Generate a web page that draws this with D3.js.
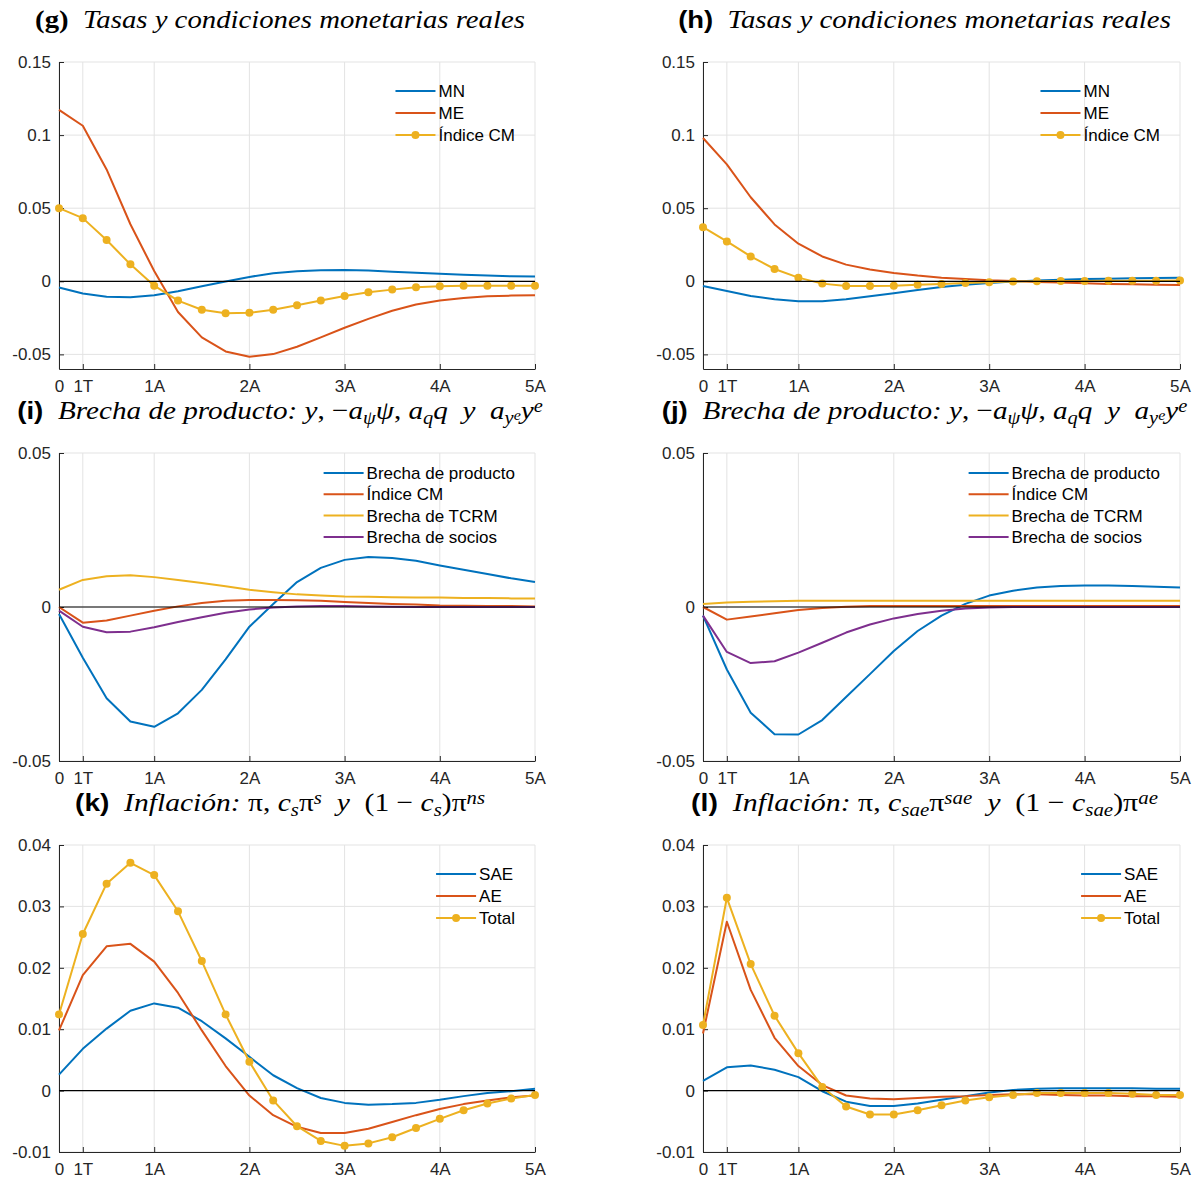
<!DOCTYPE html>
<html>
<head>
<meta charset="utf-8">
<script src="https://cdn.jsdelivr.net/npm/d3@7"></script>
<style>
  body { margin: 0; background: #fff; }
  svg { display: block; }
  .grid line { stroke: #e3e3e3; stroke-width: 1; }
</style>
</head>
<body>
<svg id="chart" width="1195" height="1181"></svg>
<script>
// quarters after the shock, 0 .. 5 years
const quarters = [0, 1, 2, 3, 4, 5, 6, 7, 8, 9, 10, 11, 12, 13, 14, 15, 16, 17, 18, 19, 20];
const xTickValues = [0, 1, 4, 8, 12, 16, 20];
const xTickLabels = ["0", "1T", "1A", "2A", "3A", "4A", "5A"];

const tasasTicks = [-0.05, 0, 0.05, 0.1, 0.15];
const brechaTicks = [-0.05, 0, 0.05];
const inflTicks = [-0.01, 0, 0.01, 0.02, 0.03, 0.04];

// (g) tasas y condiciones monetarias
const gMN = [-0.0043, -0.0084, -0.0105, -0.0109, -0.0095, -0.0068, -0.0034, -0.0002, 0.0030, 0.0055, 0.0068, 0.0075, 0.0077, 0.0073, 0.0066, 0.0059, 0.0052, 0.0045, 0.0039, 0.0034, 0.0032];
const gME = [0.1173, 0.1064, 0.0765, 0.0390, 0.0070, -0.0210, -0.0384, -0.0480, -0.0516, -0.0498, -0.0448, -0.0384, -0.0318, -0.0257, -0.0202, -0.0159, -0.0132, -0.0114, -0.0102, -0.0098, -0.0095];
const gCM = [0.0500, 0.0432, 0.0282, 0.0116, -0.0030, -0.0132, -0.0195, -0.0218, -0.0216, -0.0195, -0.0164, -0.0132, -0.0100, -0.0075, -0.0057, -0.0041, -0.0034, -0.0030, -0.0030, -0.0030, -0.0030];

// (h)
const hMN = [-0.0032, -0.0066, -0.0100, -0.0123, -0.0136, -0.0136, -0.0123, -0.0102, -0.0082, -0.0059, -0.0039, -0.0023, -0.0011, -0.0002, 0.0005, 0.0011, 0.0016, 0.0018, 0.0020, 0.0023, 0.0025];
const hME = [0.0980, 0.0800, 0.0575, 0.0389, 0.0257, 0.0170, 0.0114, 0.0080, 0.0057, 0.0039, 0.0025, 0.0016, 0.0007, 0.0002, -0.0005, -0.0009, -0.0014, -0.0018, -0.0020, -0.0023, -0.0025];
const hCM = [0.0370, 0.0273, 0.0170, 0.0084, 0.0025, -0.0016, -0.0032, -0.0032, -0.0030, -0.0023, -0.0018, -0.0011, -0.0007, -0.0002, 0.0000, 0.0002, 0.0002, 0.0003, 0.0003, 0.0004, 0.0005];

// (i) brecha de producto
const iProducto = [-0.0023, -0.0165, -0.0296, -0.0372, -0.0389, -0.0345, -0.0269, -0.0170, -0.0064, 0.0010, 0.0081, 0.0127, 0.0153, 0.0162, 0.0159, 0.0150, 0.0135, 0.0121, 0.0107, 0.0093, 0.0081];
const iCM = [0.0000, -0.0051, -0.0044, -0.0028, -0.0012, 0.0002, 0.0013, 0.0020, 0.0023, 0.0023, 0.0022, 0.0020, 0.0016, 0.0013, 0.0010, 0.0008, 0.0005, 0.0004, 0.0003, 0.0003, 0.0002];
const iTCRM = [0.0056, 0.0088, 0.0100, 0.0103, 0.0097, 0.0088, 0.0078, 0.0067, 0.0056, 0.0048, 0.0041, 0.0037, 0.0034, 0.0033, 0.0032, 0.0031, 0.0031, 0.0029, 0.0029, 0.0028, 0.0028];
const iSocios = [-0.0012, -0.0064, -0.0082, -0.0080, -0.0066, -0.0049, -0.0033, -0.0019, -0.0008, -0.0002, 0.0002, 0.0003, 0.0003, 0.0002, 0.0001, 0.0000, 0.0000, 0.0000, 0.0000, 0.0000, 0.0000];

// (j)
const jProducto = [-0.0028, -0.0203, -0.0343, -0.0413, -0.0414, -0.0367, -0.0292, -0.0218, -0.0143, -0.0078, -0.0028, 0.0010, 0.0037, 0.0053, 0.0063, 0.0068, 0.0070, 0.0070, 0.0068, 0.0066, 0.0063];
const jCM = [0.0000, -0.0041, -0.0031, -0.0020, -0.0010, -0.0003, 0.0001, 0.0003, 0.0003, 0.0003, 0.0003, 0.0003, 0.0003, 0.0003, 0.0003, 0.0003, 0.0003, 0.0003, 0.0003, 0.0003, 0.0003];
const jTCRM = [0.0010, 0.0015, 0.0017, 0.0019, 0.0020, 0.0020, 0.0020, 0.0020, 0.0020, 0.0020, 0.0020, 0.0020, 0.0020, 0.0020, 0.0020, 0.0020, 0.0020, 0.0020, 0.0020, 0.0020, 0.0020];
const jSocios = [-0.0028, -0.0146, -0.0182, -0.0176, -0.0148, -0.0116, -0.0083, -0.0057, -0.0037, -0.0023, -0.0012, -0.0005, -0.0002, 0.0000, 0.0000, 0.0000, 0.0000, 0.0000, 0.0000, 0.0000, 0.0000];

// (k) inflación
const kSAE = [0.0026, 0.0068, 0.0101, 0.0130, 0.0142, 0.0135, 0.0113, 0.0085, 0.0055, 0.0025, 0.0004, -0.0012, -0.0020, -0.0023, -0.0022, -0.0020, -0.0015, -0.0009, -0.0004, -0.0001, 0.0003];
const kAE = [0.0098, 0.0188, 0.0235, 0.0239, 0.0210, 0.0159, 0.0098, 0.0040, -0.0008, -0.0040, -0.0059, -0.0069, -0.0069, -0.0062, -0.0051, -0.0040, -0.0030, -0.0022, -0.0016, -0.0011, -0.0008];
const kTotal = [0.0124, 0.0255, 0.0337, 0.0371, 0.0351, 0.0292, 0.0211, 0.0124, 0.0047, -0.0016, -0.0058, -0.0082, -0.0090, -0.0086, -0.0076, -0.0061, -0.0046, -0.0032, -0.0021, -0.0013, -0.0007];

// (l)
const lSAE = [0.0016, 0.0038, 0.0041, 0.0034, 0.0022, -0.0001, -0.0018, -0.0025, -0.0025, -0.0021, -0.0015, -0.0009, -0.0003, 0.0001, 0.0003, 0.0004, 0.0004, 0.0004, 0.0004, 0.0003, 0.0003];
const lAE = [0.0093, 0.0275, 0.0164, 0.0086, 0.0040, 0.0009, -0.0008, -0.0013, -0.0014, -0.0012, -0.0010, -0.0009, -0.0007, -0.0006, -0.0006, -0.0007, -0.0008, -0.0008, -0.0009, -0.0009, -0.0010];
const lTotal = [0.0107, 0.0314, 0.0206, 0.0122, 0.0061, 0.0006, -0.0026, -0.0039, -0.0039, -0.0032, -0.0024, -0.0016, -0.0011, -0.0007, -0.0004, -0.0004, -0.0004, -0.0004, -0.0005, -0.0007, -0.0007];

// titles: [text, style]
const titleG = [["(g)", "bs"], ["  Tasas y condiciones monetarias reales", "it"]];
const titleH = [["(h)", "b"], ["  Tasas y condiciones monetarias reales", "it"]];
const titleBrecha = [["  Brecha de producto: ", "it"], ["y", "it"], [", ", "rm"], ["\u2212", "rm"], ["a", "it"], ["\u03C8", "sub"], ["\u03C8", "it"], [", ", "rm"],
  ["a", "it"], ["q", "sub"], ["q", "it"], ["  y  ", "it"], ["a", "it"], ["y", "sub"], ["e", "subsup"], ["y", "it"], ["e", "sup"]];
const titleI = [["(i)", "b"]].concat(titleBrecha);
const titleJ = [["(j)", "b"]].concat(titleBrecha);
const titleK = [["(k)", "b"], ["  Inflación: ", "it"], ["\u03C0", "rm"], [", ", "rm"], ["c", "it"], ["s", "sub"], ["\u03C0", "rm"], ["s", "sup"], ["  y  ", "it"],
  ["(1 \u2212 ", "rm"], ["c", "it"], ["s", "sub"], [")", "rm"], ["\u03C0", "rm"], ["ns", "sup"]];
const titleL = [["(l)", "b"], ["  Inflación: ", "it"], ["\u03C0", "rm"], [", ", "rm"], ["c", "it"], ["sae", "sub"], ["\u03C0", "rm"], ["sae", "sup"], ["  y  ", "it"],
  ["(1 \u2212 ", "rm"], ["c", "it"], ["sae", "sub"], [")", "rm"], ["\u03C0", "rm"], ["ae", "sup"]];

const blue = "#0072BD", orange = "#D95319", yellow = "#EDB120", purple = "#7E2F8E";

const panels = [
  { col: 0, row: 0, title: titleG, titleW: 490, domain: [-0.06, 0.15], ticks: tasasTicks, legendTop: 29,
    series: [{ name: "MN", values: gMN, color: blue }, { name: "ME", values: gME, color: orange }, { name: "Índice CM", values: gCM, color: yellow, marker: true }] },
  { col: 1, row: 0, title: titleH, titleW: 493, domain: [-0.06, 0.15], ticks: tasasTicks, legendTop: 29,
    series: [{ name: "MN", values: hMN, color: blue }, { name: "ME", values: hME, color: orange }, { name: "Índice CM", values: hCM, color: yellow, marker: true }] },
  { col: 0, row: 1, title: titleI, titleW: 526, domain: [-0.05, 0.05], ticks: brechaTicks, legendTop: 20,
    series: [{ name: "Brecha de producto", values: iProducto, color: blue }, { name: "Índice CM", values: iCM, color: orange },
             { name: "Brecha de TCRM", values: iTCRM, color: yellow }, { name: "Brecha de socios", values: iSocios, color: purple }] },
  { col: 1, row: 1, title: titleJ, titleW: 526, domain: [-0.05, 0.05], ticks: brechaTicks, legendTop: 20,
    series: [{ name: "Brecha de producto", values: jProducto, color: blue }, { name: "Índice CM", values: jCM, color: orange },
             { name: "Brecha de TCRM", values: jTCRM, color: yellow }, { name: "Brecha de socios", values: jSocios, color: purple }] },
  { col: 0, row: 2, title: titleK, titleW: 410, domain: [-0.01, 0.04], ticks: inflTicks, legendTop: 29,
    series: [{ name: "SAE", values: kSAE, color: blue }, { name: "AE", values: kAE, color: orange }, { name: "Total", values: kTotal, color: yellow, marker: true }] },
  { col: 1, row: 2, title: titleL, titleW: 467, domain: [-0.01, 0.04], ticks: inflTicks, legendTop: 29,
    series: [{ name: "SAE", values: lSAE, color: blue }, { name: "AE", values: lAE, color: orange }, { name: "Total", values: lTotal, color: yellow, marker: true }] }
];

const cols = [{ x0: 59, x1: 535 }, { x0: 703, x1: 1180 }];
const rows = [{ y0: 62, y1: 369 }, { y0: 453, y1: 761 }, { y0: 845, y1: 1152 }];

const sans = '"Liberation Sans", Arial, Helvetica, sans-serif';
const serif = '"Liberation Serif", "Times New Roman", serif';
const axisColor = "#262626";
const titleSize = 26;

const titleStyles = {
  b: { family: sans, weight: "bold", style: "normal", size: 0.95, shift: 0 },
  bs: { family: serif, weight: "bold", style: "normal", size: 1.0, shift: 0 },
  it: { family: serif, weight: "normal", style: "italic", size: 1, shift: 0 },
  rm: { family: serif, weight: "normal", style: "normal", size: 1, shift: 0 },
  sub: { family: serif, weight: "normal", style: "italic", size: 0.7, shift: 5 },
  sup: { family: serif, weight: "normal", style: "italic", size: 0.7, shift: -7 },
  subsup: { family: serif, weight: "normal", style: "italic", size: 0.55, shift: 1 }
};

const svg = d3.select("#chart");
svg.append("rect").attr("width", 1195).attr("height", 1181).attr("fill", "#fff");

const fmt = d => d === 0 ? "0" : String(+d.toFixed(3));

panels.forEach(p => {
  const c = cols[p.col], r = rows[p.row];
  const x = d3.scaleLinear().domain([0, 20]).range([c.x0, c.x1]);
  const y = d3.scaleLinear().domain(p.domain).range([r.y1, r.y0]);
  const g = svg.append("g");

  // grid
  const grid = g.append("g").attr("class", "grid");
  grid.selectAll(".gx").data(xTickValues).join("line")
    .attr("x1", d => x(d)).attr("x2", d => x(d)).attr("y1", r.y0).attr("y2", r.y1);
  grid.selectAll(".gy").data(p.ticks).join("line")
    .attr("x1", c.x0).attr("x2", c.x1).attr("y1", d => y(d)).attr("y2", d => y(d));

  // axes (ticks pointing inward, like MATLAB)
  const ax = g.append("g").attr("transform", `translate(0,${r.y1})`)
    .call(d3.axisBottom(x).tickValues(xTickValues).tickFormat((d, i) => xTickLabels[i])
      .tickSize(-5).tickSizeOuter(0).tickPadding(11));
  const ay = g.append("g").attr("transform", `translate(${c.x0},0)`)
    .call(d3.axisLeft(y).tickValues(p.ticks).tickFormat(fmt).tickSize(-5).tickSizeOuter(0).tickPadding(8));
  [ax, ay].forEach(a => {
    a.attr("font-family", sans).attr("font-size", 17);
    a.selectAll("path, line").attr("stroke", axisColor);
    a.selectAll("text").attr("fill", axisColor);
  });

  // series
  const line = d3.line().x((d, i) => x(quarters[i])).y(d => y(d));
  p.series.forEach(s => {
    g.append("path").datum(s.values)
      .attr("d", line).attr("fill", "none").attr("stroke", s.color)
      .attr("stroke-width", 2).attr("stroke-linejoin", "round");
    if (s.marker) {
      g.selectAll(null).data(s.values).join("circle")
        .attr("cx", (d, i) => x(quarters[i])).attr("cy", d => y(d))
        .attr("r", 4).attr("fill", s.color);
    }
  });

  // zero line
  g.append("line").attr("x1", c.x0).attr("x2", c.x1)
    .attr("y1", y(0)).attr("y2", y(0)).attr("stroke", "#000").attr("stroke-width", 1.2);

  // legend (no box)
  const leg = g.append("g");
  const step = p.series.length > 3 ? 21.3 : 22;
  const texts = p.series.map((s, i) => leg.append("text")
    .attr("y", r.y0 + p.legendTop + i * step).attr("dy", "0.35em")
    .attr("font-family", sans).attr("font-size", 17).attr("fill", "#000").text(s.name));
  const maxW = d3.max(texts, t => t.node().getComputedTextLength());
  const tx = c.x1 - 20 - maxW;
  p.series.forEach((s, i) => {
    const ly = r.y0 + p.legendTop + i * step;
    texts[i].attr("x", tx);
    leg.append("line").attr("x1", tx - 43).attr("x2", tx - 3).attr("y1", ly).attr("y2", ly)
      .attr("stroke", s.color).attr("stroke-width", 2);
    if (s.marker) leg.append("circle").attr("cx", tx - 23).attr("cy", ly).attr("r", 4).attr("fill", s.color);
  });

  // title
  const cx = (c.x0 + c.x1) / 2 - 17;
  const base = r.y0 - 34;
  const tg = g.append("g");
  const tt = tg.append("text").attr("text-anchor", "middle").style("white-space", "pre")
    .attr("font-size", titleSize).attr("fill", "#000");
  let cur = 0;
  p.title.forEach(([txt, k]) => {
    const st = titleStyles[k];
    tt.append("tspan").attr("dy", st.shift - cur)
      .attr("font-family", st.family).attr("font-weight", st.weight).attr("font-style", st.style)
      .attr("font-size", titleSize * st.size).text(txt);
    cur = st.shift;
  });
  const w = tt.node().getBBox().width;
  tg.attr("transform", `translate(${cx},${base}) scale(${p.titleW / w},1)`);
});
</script>
</body>
</html>
